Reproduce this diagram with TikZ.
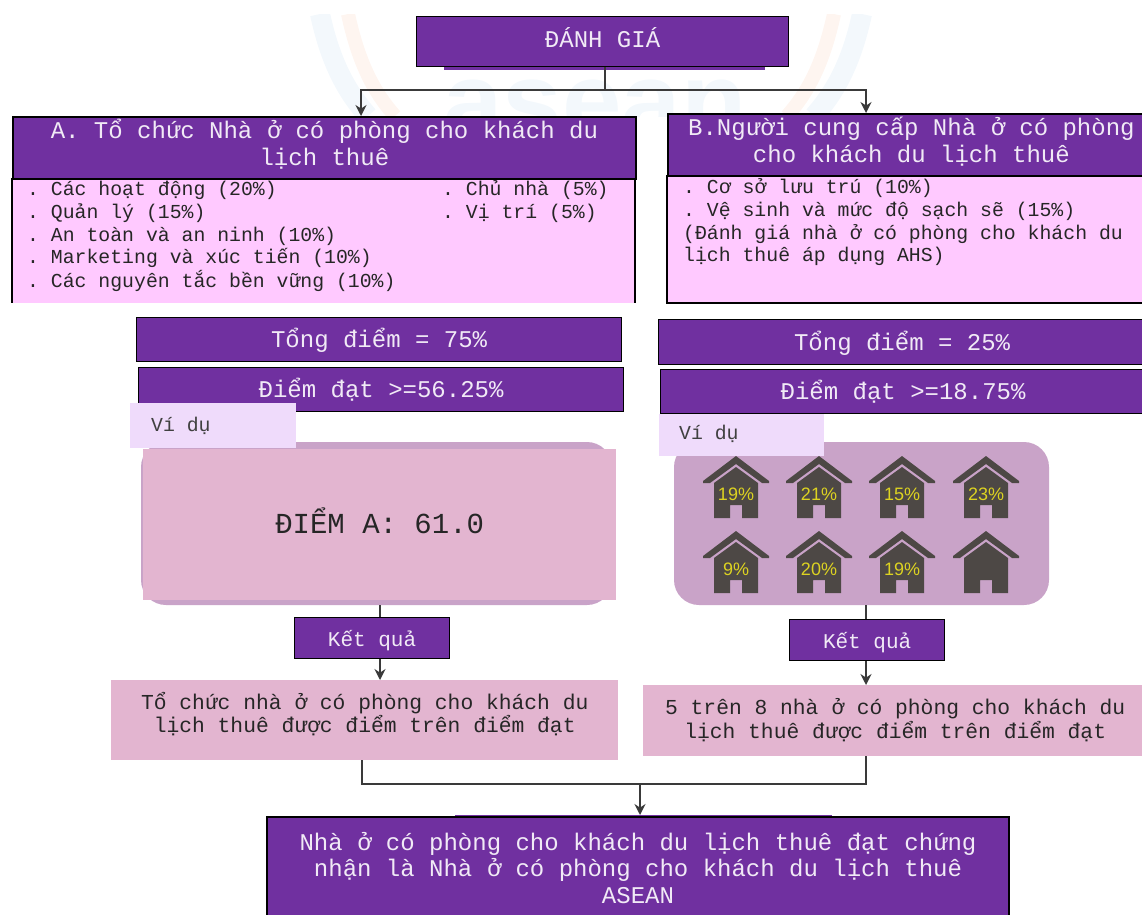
\documentclass[tikz,border=0pt]{standalone}
\usepackage{fontspec}
\setmainfont{Liberation Mono}
\newfontfamily\hsans{Liberation Sans}
\usetikzlibrary{arrows.meta,calc}
\definecolor{pur}{HTML}{7030A0}
\definecolor{lilac}{HTML}{FFC9FF}
\definecolor{rose}{HTML}{E3B5D0}
\definecolor{mauve}{HTML}{C9A3C8}
\definecolor{pale}{HTML}{EFDBFB}
\definecolor{hous}{HTML}{4D4845}
\definecolor{line}{HTML}{3A3A3A}
\definecolor{wmb}{HTML}{F3F8FC}
\definecolor{wmo}{HTML}{FEF5F0}
\newcommand{\up}[2]{\raisebox{#1}[0.8em][0.2em]{#2}}
\tikzset{
 x=1pt,y=-1pt,
 pbox/.style={draw=black,line width=1.2pt,fill=pur,text=white!90!pur,inner sep=0pt,align=center},
 rosebox/.style={fill=rose,inner sep=0pt,align=center,text=black!85},
 palebox/.style={fill=pale,inner sep=0pt,text=black!75},
 conn/.style={draw=line,line width=2.2pt},
 arr/.style={conn,-{Stealth[length=11pt,width=11pt]}},
 listt/.style={anchor=west,inner sep=0pt,text=black!85,font=\fontsize{19.8}{23}\selectfont},
 house/.pic={
  \fill[hous] (0,-37)--(33,-12)--(33,-10)--(26,-10)--(0,-29)--(-26,-10)--(-33,-10)--(-33,-12)--cycle;
  \fill[hous] (0,-26)--(22,-10)--(22,25)--(6,25)--(6,12)--(-6,12)--(-6,25)--(-22,25)--(-22,-10)--cycle;
 },
 hpct/.style={font=\hsans\fontsize{18}{18}\selectfont,text=yellow!85!black,inner sep=0pt}
}
\begin{document}
\frenchspacing
\begin{tikzpicture}
\useasboundingbox (0,0) rectangle (1142,914);
% faint watermark
\begin{scope}
\clip (300,14) rectangle (880,116);
\draw[wmb,line width=20pt] (320,14) .. controls (330,60) and (345,90) .. (368,116);
\draw[wmb,line width=20pt] (862,14) .. controls (852,60) and (837,90) .. (814,116);
\draw[wmo,line width=14pt] (348,14) .. controls (358,60) and (372,90) .. (395,116);
\draw[wmo,line width=14pt] (834,14) .. controls (824,60) and (810,90) .. (787,116);
\node[anchor=base,text=wmb,font=\hsans\bfseries\fontsize{107}{107}\selectfont,inner sep=0pt] (wm) at (595,137) {asean};
\end{scope}
% top
\fill[pur] (444,60) rectangle (765,70);
\node[pbox,minimum width=372pt,minimum height=50pt,anchor=north west,font=\fontsize{24}{27}\selectfont] (top) at (416,16) {\up{1pt}{ĐÁNH GIÁ}};
% A
\fill[lilac] (12,178) rectangle (635,303);
\draw[black,line width=1.2pt] (12,178)--(12,303) (635,178)--(635,303);
\node[pbox,line width=1.8pt,minimum width=623pt,minimum height=62pt,anchor=north west,font=\fontsize{24}{27.5}\selectfont] (A) at (12,116) {\up{3pt}{A. Tổ chức Nhà ở có phòng cho khách du}\\\up{3pt}{lịch thuê}};
\node[listt] (a1) at (27,190) {. Các hoạt động (20\%)};
\node[listt] (a2) at (27,213) {. Quản lý (15\%)};
\node[listt] (a3) at (27,236) {. An toàn và an ninh (10\%)};
\node[listt] (a4) at (27,258) {. Marketing và xúc tiến (10\%)};
\node[listt] (a5) at (27,281) {. Các nguyên tắc bền vững (10\%)};
\node[listt] (a6) at (442,190) {. Chủ nhà (5\%)};
\node[listt] (a7) at (442,213) {. Vị trí (5\%)};
% B
\fill[lilac] (667,175) rectangle (1145,303);
\draw[black,line width=1.8pt] (1145,303)--(667,303)--(667,175);
\node[pbox,line width=1.8pt,minimum width=478pt,minimum height=62pt,anchor=north west,font=\fontsize{24}{27.5}\selectfont] (B) at (667,113) {\up{3pt}{\hspace*{9pt}B.Người cung cấp Nhà ở có phòng}\\\up{3pt}{\hspace*{9pt}cho khách du lịch thuê}};
\node[listt] (b1) at (683,188) {. Cơ sở lưu trú (10\%)};
\node[listt] (b2) at (683,211) {. Vệ sinh và mức độ sạch sẽ (15\%)};
\node[listt] (b3) at (683,234) {(Đánh giá nhà ở có phòng cho khách du};
\node[listt] (b4) at (683,256) {lịch thuê áp dụng AHS)};
% scores
\node[pbox,minimum width=485pt,minimum height=44pt,anchor=north west,font=\fontsize{24}{24}\selectfont] (ta) at (136,317) {\up{-1pt}{Tổng điểm = 75\%}};
\node[pbox,minimum width=485pt,minimum height=44pt,anchor=north west,font=\fontsize{24}{24}\selectfont] (da) at (138,367) {\up{-1pt}{Điểm đạt >=56.25\%}};
\node[pbox,minimum width=487pt,minimum height=45pt,anchor=north west,font=\fontsize{24}{24}\selectfont] (tb) at (658,319) {\up{-1pt}{Tổng điểm = 25\%}};
\node[pbox,minimum width=485pt,minimum height=44pt,anchor=north west,font=\fontsize{24}{24}\selectfont] (db) at (660,369) {\up{-1pt}{Điểm đạt >=18.75\%}};
% left panel
\fill[mauve] (141,442) [rounded corners=25pt] rectangle (612,605);
\node[rosebox,minimum width=473pt,minimum height=151pt,anchor=north west,font=\fontsize{29}{29}\selectfont] (sa) at (143,449) {\up{0pt}{ĐIỂM A: 61.0}};
\node[palebox,minimum width=166pt,minimum height=45pt,anchor=north west] (va) at (130,403) {};
\node[anchor=west,inner sep=0pt,text=black!75,font=\fontsize{19.8}{22}\selectfont] (vat) at (151,426) {Ví dụ};
% right panel
\fill[mauve] (674,442) [rounded corners=25pt] rectangle (1049,605);
\foreach \cx/\cy/\t in {736/493/19\%,819/493/21\%,902/493/15\%,986/493/23\%,736/568/9\%,819/568/20\%,902/568/19\%,986/568/}{
  \pic at (\cx,\cy) {house};
  \node[hpct] at (\cx,\cy+1) {\t};
}
\node[palebox,minimum width=165pt,minimum height=42pt,anchor=north west] (vb) at (659,414) {};
\node[anchor=west,inner sep=0pt,text=black!75,font=\fontsize{19.8}{22}\selectfont] (vbt) at (679,434) {Ví dụ};
% results
\node[pbox,minimum width=155pt,minimum height=41pt,anchor=north west,font=\fontsize{21}{21}\selectfont] (ka) at (294,617) {\up{-2pt}{Kết quả}};
\node[pbox,minimum width=155pt,minimum height=41pt,anchor=north west,font=\fontsize{21}{21}\selectfont] (kb) at (789,619) {\up{-2pt}{Kết quả}};
\node[rosebox,minimum width=507pt,minimum height=80pt,anchor=north west,font=\fontsize{21.3}{23}\selectfont] (ra) at (111,680) {\up{5.5pt}{Tổ chức nhà ở có phòng cho khách du}\\\up{5.5pt}{lịch thuê được điểm trên điểm đạt}};
\node[rosebox,minimum width=499pt,minimum height=71pt,anchor=north west,font=\fontsize{21.3}{24}\selectfont] (rb) at (643,685) {\up{1pt}{\hspace*{5pt}5 trên 8 nhà ở có phòng cho khách du}\\\up{1pt}{\hspace*{5pt}lịch thuê được điểm trên điểm đạt}};
% bottom
\fill[pur] (455,815) rectangle (832,820);
\fill[pur] (267,817) rectangle (1009,916);
\draw[black,line width=1.2pt] (267,916)--(267,817)--(1009,817)--(1009,916);
\node[inner sep=0pt,align=center,text=white!90!pur,font=\fontsize{24}{26.5}\selectfont] (fin) at (638,868) {Nhà ở có phòng cho khách du lịch thuê đạt chứng\\nhận là Nhà ở có phòng cho khách du lịch thuê\\ASEAN};
% connectors
\coordinate (j1) at (605,90);
\coordinate (j2) at (640,784);
\draw[conn] (top.south -| j1) -- (j1);
\draw[arr] (j1) -| (361,116);
\draw[arr] (j1) -| (866,113);
\coordinate (ax) at (380,605);
\coordinate (bx) at (866,605);
\draw[conn] (ax) -- (ax |- ka.north);
\draw[arr] (ax |- ka.south) -- (ax |- ra.north);
\draw[conn] (bx) -- (bx |- kb.north);
\draw[arr] (bx |- kb.south) -- (bx |- rb.north);
\draw[conn] (362,760) |- (j2);
\draw[conn] (866,756) |- (j2);
\draw[arr] (j2) -- (640,815);
\end{tikzpicture}
\end{document}
